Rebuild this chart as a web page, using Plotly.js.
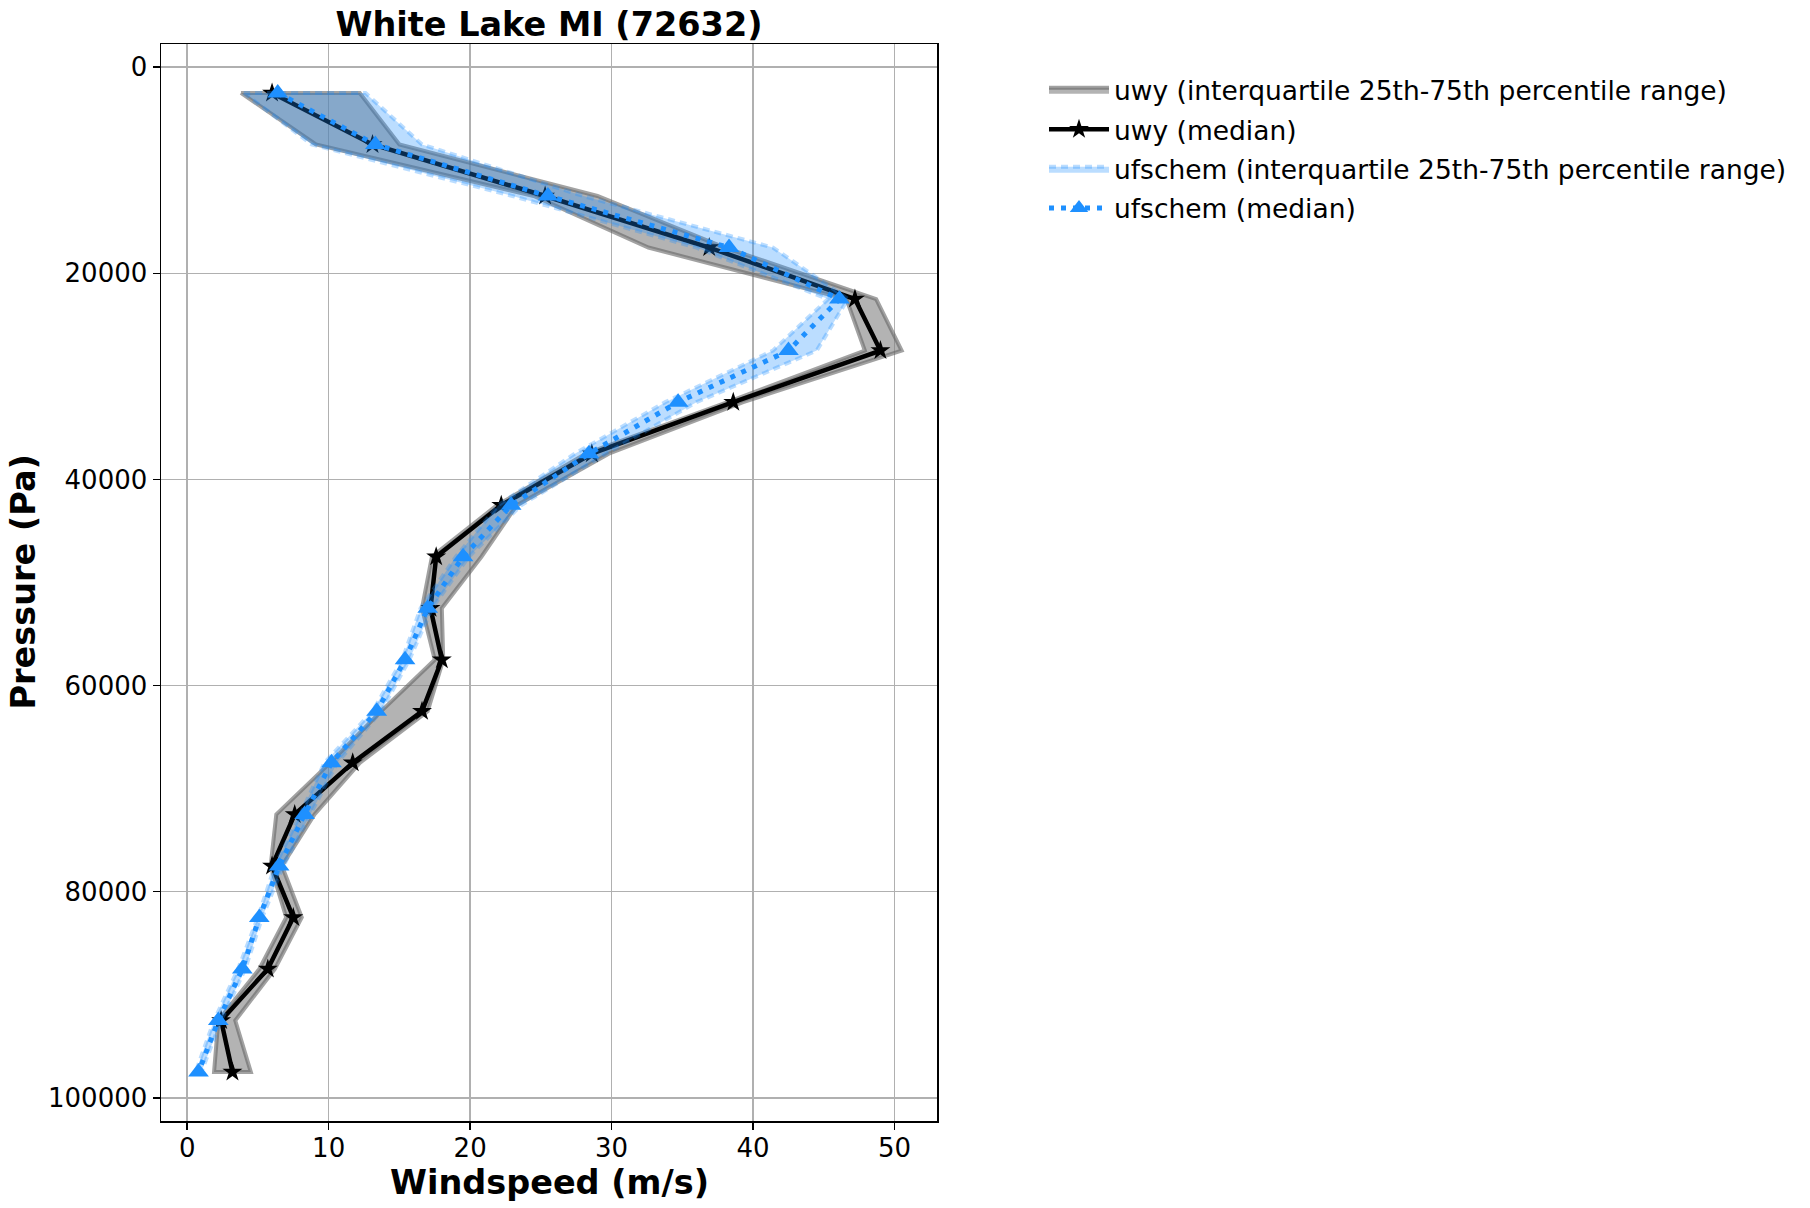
<!DOCTYPE html>
<html>
<head>
<meta charset="utf-8">
<script src="https://cdn.plot.ly/plotly-3.0.1.min.js"></script>
<style>
  html, body { margin: 0; padding: 0; background: #ffffff; }
  #chart { width: 1810px; height: 1208px; }
</style>
</head>
<body>
<div id="chart"></div>
<script>
// Pressure levels (Pa)
const pressure = [2500, 7500, 12500, 17500, 22500, 27500, 32500, 37500, 42500, 47500,
                  52500, 57500, 62500, 67500, 72500, 77500, 82500, 87500, 92500, 97500];

// uwy windspeed (m/s)
const uwyMedian = [6.0, 13.1, 25.3, 36.9, 47.2, 49.0, 38.6, 28.6, 22.2, 17.6,
                   17.2, 18.0, 16.6, 11.7, 7.6, 6.0, 7.5, 5.7, 2.4, 3.2];
const uwyQ25 = [3.8, 9.1, 24.5, 32.6, 46.6, 47.9, 38.2, 28.2, 21.9, 17.3,
                16.6, 17.5, 13.7, 10.1, 6.3, 5.9, 7.0, 5.1, 2.2, 1.9];
const uwyQ75 = [12.2, 15.0, 29.0, 38.0, 48.7, 50.5, 39.3, 29.8, 23.3, 20.8,
                18.0, 18.1, 17.0, 12.2, 9.0, 6.7, 8.1, 6.2, 3.4, 4.5];

// ufschem windspeed (m/s)
const ufsMedian = [6.4, 13.3, 25.5, 38.3, 46.1, 42.5, 34.7, 28.4, 22.9, 19.5,
                   17.0, 15.4, 13.4, 10.2, 8.3, 6.5, 5.1, 3.9, 2.2, 0.8];
const ufsQ25 = [4.0, 8.8, 23.0, 36.0, 45.3, 41.4, 33.8, 27.4, 22.0, 19.0,
                16.5, 15.2, 13.1, 9.7, 8.0, 6.2, 5.0, 3.6, 1.9, 0.6];
const ufsQ75 = [12.6, 16.6, 28.0, 41.4, 46.7, 44.5, 36.0, 29.6, 23.6, 19.9,
                17.3, 15.7, 13.7, 10.6, 8.7, 6.8, 5.3, 4.1, 2.4, 1.0];

const titleText = "White Lake MI (72632)";
const xTitle = "Windspeed (m/s)";
const yTitle = "Pressure (Pa)";
const yTickVals = [0, 20000, 40000, 60000, 80000, 100000];
const xTickVals = [0, 10, 20, 30, 40, 50];

function band(q25, q75) {
  return {
    x: q25.concat(q75.slice().reverse()).concat([q25[0]]),
    y: pressure.concat(pressure.slice().reverse()).concat([pressure[0]])
  };
}

const uwyBand = band(uwyQ25, uwyQ75);
const ufsBand = band(ufsQ25, ufsQ75);

const traces = [
  {
    x: uwyBand.x, y: uwyBand.y, type: 'scatter', mode: 'lines',
    fill: 'toself', fillcolor: 'rgba(128,128,128,0.6)',
    line: {color: 'rgba(100,100,100,0.6)', width: 4},
    name: 'uwy (interquartile 25th-75th percentile range)',
    legendgroup: 'a', hoverinfo: 'skip'
  },
  {
    x: uwyMedian, y: pressure, type: 'scatter', mode: 'lines+markers',
    line: {color: '#000000', width: 4.5},
    marker: {symbol: 'star', size: 15, color: '#000000'},
    name: 'uwy (median)', legendgroup: 'b'
  },
  {
    x: ufsBand.x, y: ufsBand.y, type: 'scatter', mode: 'lines',
    fill: 'toself', fillcolor: 'rgba(30,144,255,0.3)',
    line: {color: 'rgba(30,144,255,0.3)', width: 4, dash: '7px,5px'},
    name: 'ufschem (interquartile 25th-75th percentile range)',
    legendgroup: 'c', hoverinfo: 'skip'
  },
  {
    x: ufsMedian, y: pressure, type: 'scatter', mode: 'lines+markers',
    line: {color: '#1e90ff', width: 5, dash: '5px,7px'},
    marker: {symbol: 'triangle-up', size: 18, color: '#1e90ff'},
    name: 'ufschem (median)', legendgroup: 'd'
  }
];

const layout = {
  width: 1810, height: 1208,
  paper_bgcolor: '#ffffff', plot_bgcolor: '#ffffff',
  margin: {l: 161, r: 873, t: 44, b: 87, pad: 0},
  font: {family: 'DejaVu Sans, sans-serif', size: 26, color: '#000000'},
  title: {
    text: '<b>' + titleText + '</b>',
    font: {family: 'DejaVu Sans, sans-serif', size: 33.5, color: '#000000'},
    x: 0.5 * 776 / 1810 + 161 / 1810, xanchor: 'center',
    y: 1 - 24 / 1208, yanchor: 'middle'
  },
  xaxis: {
    range: [-1.85, 53.0],
    tickvals: xTickVals,
    ticks: 'outside', ticklen: 7, tickwidth: 1.5, tickcolor: '#000000',
    ticklabelstandoff: -4,
    showgrid: true, gridcolor: '#b0b0b0', gridwidth: 1.5,
    showline: true, linecolor: '#000000', linewidth: 1.5, mirror: true,
    zeroline: false,
    tickfont: {size: 26}
  },
  yaxis: {
    range: [102250, -2250],
    tickvals: yTickVals, tickformat: 'd',
    ticks: 'outside', ticklen: 7, tickwidth: 1.5, tickcolor: '#000000',
    showgrid: true, gridcolor: '#b0b0b0', gridwidth: 1.5,
    showline: true, linecolor: '#000000', linewidth: 1.5, mirror: true,
    zeroline: false,
    tickfont: {size: 26}
  },
  annotations: [
    {
      text: '<b>' + xTitle + '</b>', showarrow: false,
      xref: 'paper', yref: 'paper', x: 0.5, y: -(1182 - 1121) / 1077,
      xanchor: 'center', yanchor: 'middle',
      font: {size: 33.5, color: '#000000'}
    },
    {
      text: '<b>' + yTitle + '</b>', showarrow: false, textangle: -90,
      xref: 'paper', yref: 'paper', x: (23 - 161) / 776, y: 0.5,
      xanchor: 'center', yanchor: 'middle',
      font: {size: 33.5, color: '#000000'}
    }
  ],
  showlegend: true,
  legend: {
    x: (1044 - 161) / 776, xanchor: 'left',
    y: 1 - (66 - 44) / 1077, yanchor: 'top',
    font: {size: 26.5},
    bgcolor: 'rgba(255,255,255,0)',
    borderwidth: 0,
    traceorder: 'grouped',
    tracegroupgap: 2,
    itemwidth: 60
  }
};

Plotly.newPlot('chart', traces, layout, {staticPlot: true, displayModeBar: false});
</script>
</body>
</html>
